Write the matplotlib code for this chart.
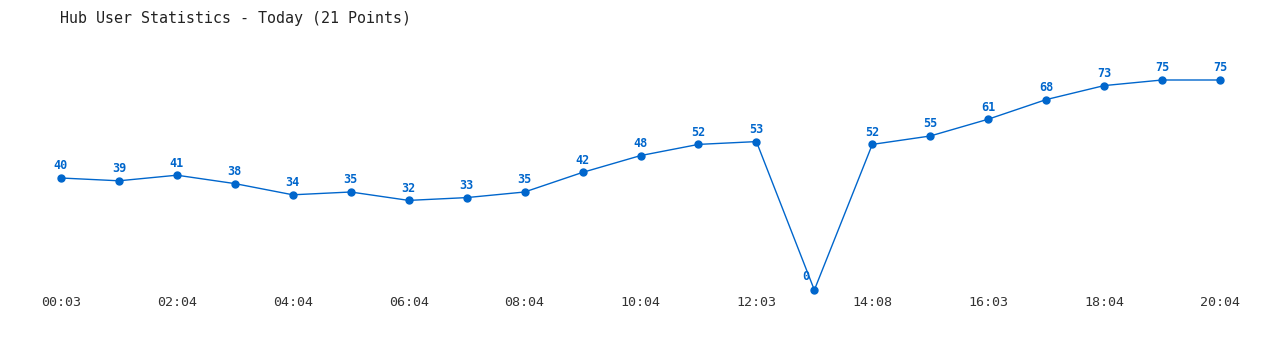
import matplotlib.pyplot as plt

times = ["00:03", "01:04", "02:04", "03:04", "04:04", "05:04", "06:04", "07:04",
         "08:04", "09:04", "10:04", "11:04", "12:03", "13:04", "14:08", "15:04",
         "16:03", "17:04", "18:04", "19:04", "20:04"]
users = [40, 39, 41, 38, 34, 35, 32, 33, 35, 42, 48, 52, 53, 0, 52, 55, 61, 68, 73, 75, 75]

blue = "#0066cc"
x = list(range(len(users)))

fig = plt.figure(figsize=(12.8, 3.5), dpi=100)
ax = fig.add_axes([61 / 1280, 1 - 290 / 350, (1220 - 61) / 1280, 210 / 350])

ax.plot(x, users, color=blue, linewidth=1, marker="o", markersize=5, clip_on=False)

for xi, v in zip(x, users):
    if v == 0:
        off = (-6, 5)
    else:
        off = (0, 4)
    ax.annotate(str(v), (xi, v), xytext=off, textcoords="offset points",
                ha="center", va="bottom", color=blue, fontsize=8.5,
                fontweight="bold", family="DejaVu Sans Mono")

ax.set_xlim(0, 20)
ax.set_ylim(0, 75)
ax.set_xticks(x[::2])
ax.set_xticklabels(times[::2], family="DejaVu Sans Mono", fontsize=9.6, color="#333333")
ax.tick_params(axis="x", length=0, pad=4)
ax.set_yticks([])
for s in ax.spines.values():
    s.set_visible(False)

fig.text(60 / 1280, 1 - 18 / 350, "Hub User Statistics - Today (21 Points)",
         family="DejaVu Sans Mono", fontsize=10.8, color="#222222", va="center")

fig.savefig("out.png", dpi=100)
